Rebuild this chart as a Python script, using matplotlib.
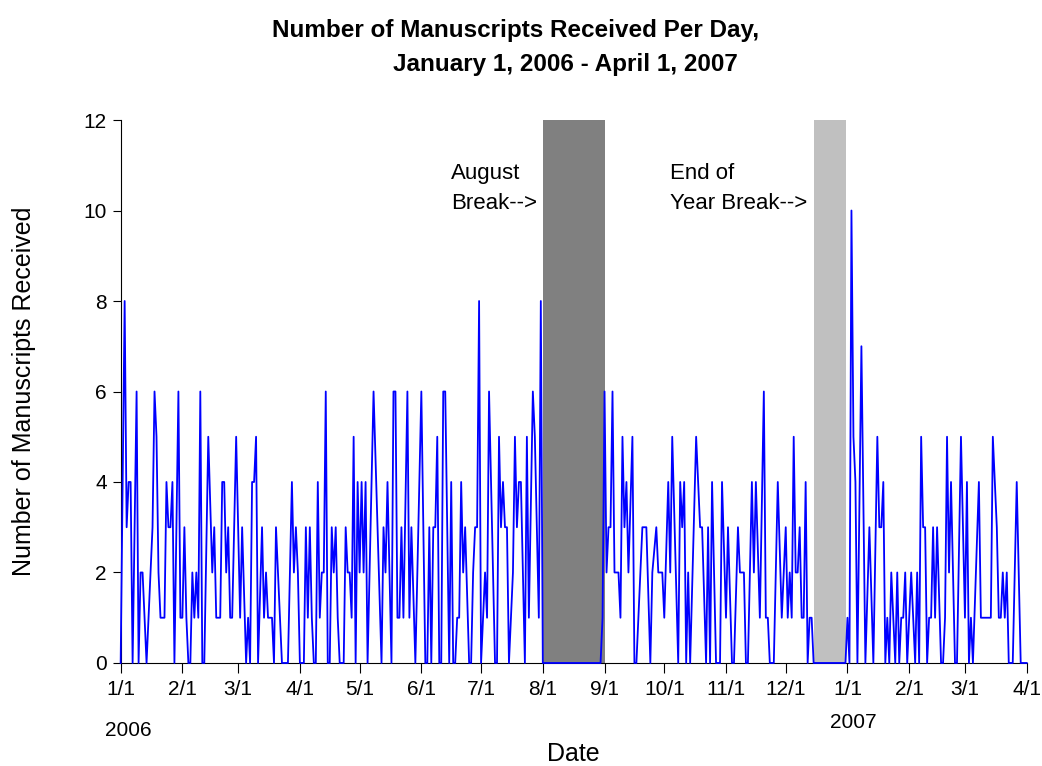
import pandas as pd
import matplotlib
matplotlib.use("Agg")
import matplotlib.pyplot as plt
import matplotlib.dates as mdates
from matplotlib.ticker import FuncFormatter

plt.rcParams['font.family'] = ['Liberation Sans', 'DejaVu Sans']

# Daily counts as (days since 1 Jan 2006, manuscripts)
day_offset = [
    0, 2, 3, 4, 5, 6, 8, 9, 10, 11, 13, 14, 16, 17, 18, 19, 20, 22, 23, 24,
    25, 26, 27, 29, 30, 31, 32, 33, 34, 35, 36, 37, 38, 39, 40,
    41, 42, 44, 46, 47, 48, 50, 51, 52, 53, 54, 55, 56, 58, 60, 61, 63, 64,
    65, 66, 67, 68, 69, 71, 72, 73, 74, 76, 77, 78,
    80, 81, 84, 86, 87, 88, 89, 90, 92, 93, 94, 95, 96, 97, 98, 99, 100,
    101, 102, 103, 104, 105, 106, 107, 108, 109, 110, 112, 113, 114, 115,
    116, 117, 118, 119,
    120, 121, 122, 123, 124, 127, 129, 131, 132, 133, 134, 136, 137, 138,
    139, 140, 141, 142, 144, 145, 146, 148, 151, 153, 154, 155, 156, 157,
    158, 159, 160,
    161, 162, 163, 165, 166, 167, 168, 169, 170, 171, 172, 173, 175, 176,
    177, 178, 179, 180, 181, 183, 184, 185, 188, 189, 190, 191, 192, 193,
    194, 195, 197, 198, 199, 200,
    201, 203, 204, 205, 207, 208, 210, 211, 212, 241, 242, 243,
    244, 245, 246, 247, 248, 250, 251, 252, 253, 254, 255, 257, 258, 259,
    262, 264, 266, 267, 269, 270, 272, 273, 275, 276, 277, 280, 281, 282,
    283,
    284, 285, 286, 289, 291, 292, 294, 295, 296, 297, 299, 301, 302, 304,
    305, 307, 308, 310, 311, 313, 314, 315, 317, 318, 319, 321, 323,
    324, 325, 326, 328, 330, 332, 334, 335, 336, 337, 338, 339, 340, 341,
    342, 343, 344, 345, 346, 347, 348, 364,
    365, 366, 367, 368, 369, 370, 372, 374, 376, 378, 380, 381, 382, 383,
    384, 385, 386, 387, 389, 390, 391, 392, 393, 394, 395, 397, 398, 399,
    400, 401, 402, 403, 404, 405, 406, 407, 408, 409, 410,
    412, 413, 414, 415, 416, 417, 419, 420, 422, 424, 425, 426, 427, 428,
    431, 432, 437, 438, 440, 441, 442, 443, 444, 445, 446, 448, 450, 452,
    455,
]
received = [
    0, 8, 3, 4, 4, 0, 6, 0, 2, 2, 0, 1, 3, 6, 5, 2, 1, 1, 4, 3,
    3, 4, 0, 6, 1, 1, 3, 1, 0, 0, 2, 1, 2, 1, 6,
    0, 0, 5, 2, 3, 1, 1, 4, 4, 2, 3, 1, 1, 5, 1, 3, 0, 1,
    0, 4, 4, 5, 0, 3, 1, 2, 1, 1, 0, 3,
    1, 0, 0, 4, 2, 3, 2, 0, 0, 3, 1, 3, 1, 0, 0, 4, 1,
    2, 2, 6, 0, 0, 3, 2, 3, 1, 0, 0, 3, 2, 2,
    1, 5, 0, 4,
    2, 4, 2, 4, 0, 6, 3, 0, 3, 2, 4, 0, 6, 6,
    1, 1, 3, 1, 6, 1, 3, 0, 6, 0, 0, 3, 0, 3,
    3, 5, 0,
    0, 6, 6, 0, 4, 0, 0, 1, 1, 4, 2, 3, 0, 0,
    2, 3, 3, 8, 0, 2, 1, 6, 0, 0, 5, 3, 4, 3,
    3, 0, 2, 5, 3, 4,
    4, 0, 5, 1, 6, 5, 1, 8, 0, 0, 1, 6,
    2, 3, 3, 6, 2, 2, 1, 5, 3, 4, 2, 5, 0, 0,
    3, 3, 0, 2, 3, 2, 2, 1, 4, 2, 5, 0, 4, 3,
    4,
    0, 2, 0, 5, 3, 3, 0, 3, 0, 4, 0, 0, 4, 1,
    3, 0, 0, 3, 2, 2, 0, 0, 4, 2, 4, 1, 6,
    1, 1, 0, 0, 4, 1, 3, 1, 2, 1, 5, 2, 2, 3,
    1, 1, 4, 0, 1, 1, 0, 0,
    1, 0, 10, 5, 4, 0, 7, 0, 3, 0, 5, 3, 3, 4,
    0, 1, 0, 2, 0, 2, 0, 1, 1, 2, 0, 2, 1, 0,
    2, 0, 5, 3, 3, 0, 1, 1, 3, 1, 3,
    0, 0, 1, 5, 2, 4, 0, 0, 5, 1, 4, 0, 1, 0,
    4, 1, 1, 5, 3, 1, 1, 2, 1, 2, 0, 0, 4, 0,
    0,
]

start = pd.Timestamp('2006-01-01')
end = pd.Timestamp('2007-04-01')
dates = start + pd.to_timedelta(day_offset, unit='D')

# break periods shaded on the chart
breaks = [
    ('2006-08-01', '2006-09-01', '#808080'),
    ('2006-12-15', '2006-12-31 06:00', '#c0c0c0'),
]

fig = plt.figure(figsize=(10.42, 7.66), dpi=100)
ax = fig.add_axes([0.1158, 0.1345, 0.8695, 0.7088])

for b0, b1, col in breaks:
    ax.axvspan(pd.Timestamp(b0), pd.Timestamp(b1), color=col, lw=0, zorder=1)

ax.plot(dates, received, color='#0000ff', lw=1.3, zorder=3, clip_on=False)

ax.set_xlim(start, end)
ax.set_ylim(0, 12)
ax.set_yticks(range(0, 13, 2))
ax.xaxis.set_major_locator(mdates.MonthLocator())
ax.xaxis.set_major_formatter(FuncFormatter(
    lambda v, pos: '%d/%d' % (mdates.num2date(v).month, mdates.num2date(v).day)))

for s in ['top', 'right']:
    ax.spines[s].set_visible(False)
for s in ['left', 'bottom']:
    ax.spines[s].set_linewidth(0.8)
ax.tick_params(axis='both', labelsize=15, direction='out', width=0.8)
ax.tick_params(axis='x', length=7, pad=5)
ax.tick_params(axis='y', length=6, pad=4)

ax.set_xlabel('Date', fontsize=18, labelpad=31)
ax.set_ylabel('Number of Manuscripts Received', fontsize=18, labelpad=34)

ax.text(pd.Timestamp('2006-06-16'), 11.05, 'August\nBreak-->', fontsize=16,
        va='top', ha='left', linespacing=1.55)
ax.text(pd.Timestamp('2006-10-04'), 11.05, 'End of\nYear Break-->', fontsize=16,
        va='top', ha='left', linespacing=1.55)

# year labels under the month ticks
fig.text(128 / 1042, 1 - 730 / 766, '2006', fontsize=15, ha='center', va='center')
fig.text(853 / 1042, 1 - 722 / 766, '2007', fontsize=15, ha='center', va='center')

fig.text(516 / 1042, 1 - 30 / 766, 'Number of Manuscripts Received Per Day,',
         fontsize=17.5, fontweight='bold', ha='center', va='center')
fig.text(565 / 1042, 1 - 65 / 766, 'January 1, 2006 - April 1, 2007',
         fontsize=17.5, fontweight='bold', ha='center', va='center')

fig.savefig('out.png', dpi=100)
